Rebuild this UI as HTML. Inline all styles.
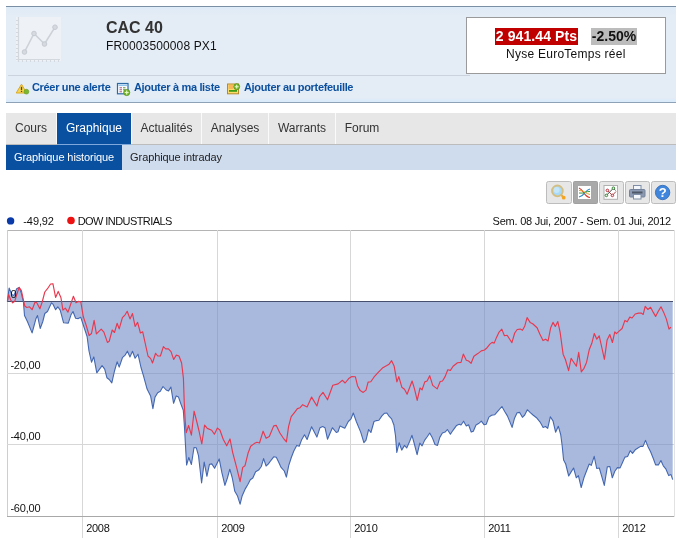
<!DOCTYPE html>
<html><head><meta charset="utf-8">
<style>
html,body{margin:0;padding:0;background:#fff;}
body{width:679px;height:538px;overflow:hidden;position:relative;font-family:"Liberation Sans",sans-serif;color:#222;}
.abs{position:absolute;}
#hdr{left:6px;top:6px;width:670px;height:97px;background:linear-gradient(to bottom,#deebf8 0px,#e4ecf5 9px,#e4ecf5 91px,#dcebfa 93px,#dcebfa 100%);border-top:1px solid #7b8fa4;border-bottom:1px solid #8da2b7;box-sizing:border-box;}
#sep{left:8px;top:75px;width:462px;height:1px;background:#cbd4de;}
#title{left:106px;top:19px;font-size:16px;font-weight:bold;color:#333;white-space:nowrap;}
#isin{left:106px;top:39px;font-size:12px;letter-spacing:0.12px;color:#111;white-space:nowrap;}
#pbox{left:466px;top:17px;width:200px;height:57px;background:#fff;border:1px solid #9a9a9a;box-sizing:border-box;}
.lnk{top:81px;font-size:11px;letter-spacing:-0.33px;font-weight:bold;color:#0b4f9f;white-space:nowrap;}
#tabs{left:6px;top:113px;width:670px;height:31px;background:#e7e7e7;}
.tab{top:113px;height:31px;line-height:30px;font-size:12px;color:#333;text-align:center;white-space:nowrap;box-sizing:border-box;border-right:1px solid #fafafa;}
.tab.on{background:#0a50a0;color:#fff;}
#sub{left:6px;top:145px;width:670px;height:25px;background:#cfdcee;}
.stab{top:145px;height:25px;line-height:25px;font-size:11px;letter-spacing:-0.1px;color:#222;white-space:nowrap;text-align:center;}
.stab.on{background:#0a50a0;color:#fff;}
#pr{left:495px;top:28px;width:83px;height:17px;line-height:17px;background:#c00000;color:#fff;font-weight:bold;font-size:14px;letter-spacing:0.1px;text-align:center;white-space:nowrap;}
#pc{left:591px;top:28px;width:46px;height:17px;line-height:17px;background:#bcbcbc;color:#111;font-weight:bold;font-size:14px;text-align:center;white-space:nowrap;}
#pn{left:506px;top:47px;font-size:12px;letter-spacing:0.26px;color:#111;white-space:nowrap;}
</style></head><body>
<div id="hdr" class="abs"></div>
<div id="sep" class="abs"></div>
<div id="title" class="abs">CAC 40</div>
<div id="isin" class="abs">FR0003500008 PX1</div>
<div id="pbox" class="abs"></div>
<div class="abs" id="pr">2 941.44 Pts</div>
<div class="abs" id="pc">-2.50%</div>
<div class="abs" id="pn">Nyse EuroTemps réel</div>
<div class="abs lnk" style="left:32px">Créer une alerte</div>
<div class="abs lnk" style="left:134px">Ajouter à ma liste</div>
<div class="abs lnk" style="left:244px">Ajouter au portefeuille</div>
<div id="tabs" class="abs"></div>
<div class="abs tab" style="left:6px;width:51px">Cours</div>
<div class="abs tab on" style="left:57px;width:75px">Graphique</div>
<div class="abs tab" style="left:132px;width:70px">Actualités</div>
<div class="abs tab" style="left:202px;width:67px">Analyses</div>
<div class="abs tab" style="left:269px;width:67px">Warrants</div>
<div class="abs tab" style="left:336px;width:52px;border-right:none">Forum</div>
<div class="abs" style="left:6px;top:144px;width:670px;height:1px;background:#bcbcbc"></div>
<div class="abs" style="left:57px;top:144px;width:74px;height:1px;background:#7fa9dc"></div>
<div id="sub" class="abs"></div>
<div class="abs stab on" style="left:6px;width:116px">Graphique historique</div>
<div class="abs stab" style="left:122px;width:108px">Graphique intraday</div>
<!--CHART--><svg class="abs" style="left:0;top:0" width="679" height="538" viewBox="0 0 679 538">
<g shape-rendering="crispEdges">
<rect x="7" y="230" width="667" height="1" fill="#b4b4b4"/>
<rect x="7" y="230" width="1" height="287" fill="#cecece"/>
<rect x="674" y="230" width="1" height="287" fill="#e2e2e2"/>
<rect x="7" y="373" width="667" height="1" fill="#d7d7d7"/>
<rect x="7" y="444" width="667" height="1" fill="#d7d7d7"/>
<rect x="82" y="230" width="1" height="308" fill="#d7d7d7"/>
<rect x="217" y="230" width="1" height="308" fill="#d7d7d7"/>
<rect x="350" y="230" width="1" height="308" fill="#d7d7d7"/>
<rect x="484" y="230" width="1" height="308" fill="#d7d7d7"/>
<rect x="618" y="230" width="1" height="308" fill="#d7d7d7"/>
<rect x="7" y="516" width="667" height="1" fill="#a8a8a8"/>
</g>
<path d="M7.4,301.4 L9.1,288.0 L12.0,294.7 L14.0,295.4 L16.7,288.7 L19.1,287.4 L21.4,293.4 L23.4,302.0 L24.5,315.5 L27.4,321.5 L32.1,332.9 L34.1,325.5 L35.9,318.8 L37.5,315.5 L40.2,328.5 L42.8,321.5 L44.8,313.5 L47.5,311.5 L51.5,302.8 L52.9,304.1 L55.6,309.7 L57.8,306.8 L60.2,310.1 L63.6,322.8 L68.3,323.1 L71.0,314.8 L73.0,311.5 L75.6,318.2 L78.3,318.6 L80.8,317.3 L83.3,325.0 L87.1,336.5 L89.0,351.0 L91.5,362.2 L93.8,356.9 L96.8,372.8 L102.1,365.7 L104.7,369.2 L106.9,377.7 L109.2,379.5 L111.8,382.8 L114.5,371.0 L117.1,361.8 L119.2,367.1 L122.4,357.7 L125.1,355.1 L127.4,351.2 L130.0,356.9 L132.5,351.2 L135.1,358.3 L138.0,354.2 L141.0,367.5 L143.5,375.9 L147.1,389.1 L150.6,395.9 L152.9,408.6 L155.0,397.1 L157.7,392.7 L160.3,391.3 L163.0,386.5 L166.2,390.0 L168.6,390.9 L170.9,387.0 L173.6,403.3 L176.2,395.9 L178.5,397.1 L181.0,404.2 L183.3,410.3 L184.6,429.0 L185.4,444.0 L186.6,465.0 L188.8,457.5 L191.4,464.5 L194.0,447.5 L196.3,447.8 L198.5,455.6 L201.6,483.0 L204.2,462.1 L206.9,476.3 L209.5,464.2 L211.8,463.9 L214.6,468.3 L219.2,458.9 L221.9,472.7 L224.9,485.4 L227.4,478.0 L229.8,469.2 L232.3,478.0 L234.8,491.3 L237.4,495.7 L240.1,504.2 L242.2,495.7 L245.4,488.6 L248.0,484.2 L250.3,479.8 L252.8,478.0 L255.6,471.8 L258.6,470.1 L261.3,466.5 L263.6,458.6 L266.1,466.0 L268.4,463.9 L271.0,460.3 L273.7,456.8 L276.3,457.2 L278.6,462.1 L281.1,467.4 L284.3,471.0 L286.4,477.1 L288.7,465.7 L291.3,457.5 L293.8,451.0 L296.7,445.4 L299.2,446.3 L301.5,440.1 L304.5,434.8 L307.1,439.5 L311.6,426.8 L316.9,437.1 L320.0,427.7 L322.7,426.5 L325.0,427.7 L327.5,439.2 L332.4,427.7 L336.3,432.5 L338.0,431.8 L340.0,425.9 L344.8,428.2 L348.3,421.5 L351.0,418.9 L353.3,413.0 L356.3,421.5 L360.7,432.1 L363.9,442.7 L366.0,440.1 L368.6,429.5 L370.9,432.5 L374.0,421.5 L376.6,420.6 L378.9,420.3 L381.9,415.9 L384.6,413.2 L386.9,413.0 L389.0,416.2 L391.6,418.9 L393.9,425.0 L395.5,435.7 L396.8,452.4 L399.2,442.7 L401.7,450.1 L404.5,445.4 L406.7,448.0 L409.7,441.3 L412.0,435.3 L414.5,444.5 L417.1,454.7 L419.8,443.1 L422.1,445.9 L424.7,440.1 L427.4,436.5 L429.7,433.0 L432.2,437.4 L435.0,444.5 L437.5,445.4 L439.8,437.4 L442.4,433.0 L445.1,432.1 L447.4,429.5 L450.4,434.2 L453.0,430.3 L456.6,425.4 L459.2,424.2 L461.0,425.0 L463.6,421.2 L466.3,425.9 L468.6,424.7 L471.2,432.1 L473.3,431.2 L476.0,425.0 L478.6,423.6 L481.3,421.2 L484.0,424.7 L486.2,424.2 L488.9,417.1 L491.6,415.3 L494.6,414.8 L498.3,410.6 L501.9,406.5 L504.7,411.5 L507.4,415.9 L510.0,422.1 L512.1,427.4 L514.4,418.6 L517.1,412.7 L519.7,412.4 L522.4,417.3 L524.7,415.0 L527.3,409.7 L530.3,412.7 L533.0,415.0 L536.5,417.7 L540.1,422.1 L543.1,427.4 L545.4,426.5 L547.7,428.3 L550.3,416.8 L553.0,420.9 L555.6,432.2 L558.3,426.2 L560.7,434.5 L562.2,446.0 L563.6,460.1 L565.7,464.0 L568.7,476.0 L571.0,472.1 L573.6,468.0 L576.3,477.8 L578.4,475.6 L581.2,487.5 L583.9,477.8 L586.6,470.7 L589.2,464.0 L591.3,465.4 L594.2,456.3 L596.7,468.5 L599.3,468.0 L601.8,476.6 L604.3,485.4 L607.3,466.8 L609.9,466.5 L612.3,477.8 L614.8,471.2 L617.4,467.6 L620.1,467.9 L622.5,462.5 L624.9,457.1 L627.6,456.5 L630.2,450.7 L632.5,453.4 L635.2,449.8 L637.9,448.0 L640.6,446.4 L643.0,446.4 L645.5,440.4 L647.9,446.4 L650.6,451.8 L653.3,458.5 L655.6,464.9 L658.4,464.9 L660.9,460.5 L663.3,465.8 L666.0,469.2 L668.7,475.6 L671.0,474.6 L672.7,479.6 L672.7,301.5 L7.4,301.5 Z" fill="#6f8bc8" fill-opacity="0.6" stroke="none"/>
<g shape-rendering="crispEdges">
<rect x="7" y="301" width="666" height="1" fill="#46506e"/>
</g>
<path d="M7.4,301.4 L9.1,288.0 L12.0,294.7 L14.0,295.4 L16.7,288.7 L19.1,287.4 L21.4,293.4 L23.4,302.0 L24.5,315.5 L27.4,321.5 L32.1,332.9 L34.1,325.5 L35.9,318.8 L37.5,315.5 L40.2,328.5 L42.8,321.5 L44.8,313.5 L47.5,311.5 L51.5,302.8 L52.9,304.1 L55.6,309.7 L57.8,306.8 L60.2,310.1 L63.6,322.8 L68.3,323.1 L71.0,314.8 L73.0,311.5 L75.6,318.2 L78.3,318.6 L80.8,317.3 L83.3,325.0 L87.1,336.5 L89.0,351.0 L91.5,362.2 L93.8,356.9 L96.8,372.8 L102.1,365.7 L104.7,369.2 L106.9,377.7 L109.2,379.5 L111.8,382.8 L114.5,371.0 L117.1,361.8 L119.2,367.1 L122.4,357.7 L125.1,355.1 L127.4,351.2 L130.0,356.9 L132.5,351.2 L135.1,358.3 L138.0,354.2 L141.0,367.5 L143.5,375.9 L147.1,389.1 L150.6,395.9 L152.9,408.6 L155.0,397.1 L157.7,392.7 L160.3,391.3 L163.0,386.5 L166.2,390.0 L168.6,390.9 L170.9,387.0 L173.6,403.3 L176.2,395.9 L178.5,397.1 L181.0,404.2 L183.3,410.3 L184.6,429.0 L185.4,444.0 L186.6,465.0 L188.8,457.5 L191.4,464.5 L194.0,447.5 L196.3,447.8 L198.5,455.6 L201.6,483.0 L204.2,462.1 L206.9,476.3 L209.5,464.2 L211.8,463.9 L214.6,468.3 L219.2,458.9 L221.9,472.7 L224.9,485.4 L227.4,478.0 L229.8,469.2 L232.3,478.0 L234.8,491.3 L237.4,495.7 L240.1,504.2 L242.2,495.7 L245.4,488.6 L248.0,484.2 L250.3,479.8 L252.8,478.0 L255.6,471.8 L258.6,470.1 L261.3,466.5 L263.6,458.6 L266.1,466.0 L268.4,463.9 L271.0,460.3 L273.7,456.8 L276.3,457.2 L278.6,462.1 L281.1,467.4 L284.3,471.0 L286.4,477.1 L288.7,465.7 L291.3,457.5 L293.8,451.0 L296.7,445.4 L299.2,446.3 L301.5,440.1 L304.5,434.8 L307.1,439.5 L311.6,426.8 L316.9,437.1 L320.0,427.7 L322.7,426.5 L325.0,427.7 L327.5,439.2 L332.4,427.7 L336.3,432.5 L338.0,431.8 L340.0,425.9 L344.8,428.2 L348.3,421.5 L351.0,418.9 L353.3,413.0 L356.3,421.5 L360.7,432.1 L363.9,442.7 L366.0,440.1 L368.6,429.5 L370.9,432.5 L374.0,421.5 L376.6,420.6 L378.9,420.3 L381.9,415.9 L384.6,413.2 L386.9,413.0 L389.0,416.2 L391.6,418.9 L393.9,425.0 L395.5,435.7 L396.8,452.4 L399.2,442.7 L401.7,450.1 L404.5,445.4 L406.7,448.0 L409.7,441.3 L412.0,435.3 L414.5,444.5 L417.1,454.7 L419.8,443.1 L422.1,445.9 L424.7,440.1 L427.4,436.5 L429.7,433.0 L432.2,437.4 L435.0,444.5 L437.5,445.4 L439.8,437.4 L442.4,433.0 L445.1,432.1 L447.4,429.5 L450.4,434.2 L453.0,430.3 L456.6,425.4 L459.2,424.2 L461.0,425.0 L463.6,421.2 L466.3,425.9 L468.6,424.7 L471.2,432.1 L473.3,431.2 L476.0,425.0 L478.6,423.6 L481.3,421.2 L484.0,424.7 L486.2,424.2 L488.9,417.1 L491.6,415.3 L494.6,414.8 L498.3,410.6 L501.9,406.5 L504.7,411.5 L507.4,415.9 L510.0,422.1 L512.1,427.4 L514.4,418.6 L517.1,412.7 L519.7,412.4 L522.4,417.3 L524.7,415.0 L527.3,409.7 L530.3,412.7 L533.0,415.0 L536.5,417.7 L540.1,422.1 L543.1,427.4 L545.4,426.5 L547.7,428.3 L550.3,416.8 L553.0,420.9 L555.6,432.2 L558.3,426.2 L560.7,434.5 L562.2,446.0 L563.6,460.1 L565.7,464.0 L568.7,476.0 L571.0,472.1 L573.6,468.0 L576.3,477.8 L578.4,475.6 L581.2,487.5 L583.9,477.8 L586.6,470.7 L589.2,464.0 L591.3,465.4 L594.2,456.3 L596.7,468.5 L599.3,468.0 L601.8,476.6 L604.3,485.4 L607.3,466.8 L609.9,466.5 L612.3,477.8 L614.8,471.2 L617.4,467.6 L620.1,467.9 L622.5,462.5 L624.9,457.1 L627.6,456.5 L630.2,450.7 L632.5,453.4 L635.2,449.8 L637.9,448.0 L640.6,446.4 L643.0,446.4 L645.5,440.4 L647.9,446.4 L650.6,451.8 L653.3,458.5 L655.6,464.9 L658.4,464.9 L660.9,460.5 L663.3,465.8 L666.0,469.2 L668.7,475.6 L671.0,474.6 L672.7,479.6" fill="none" stroke="#4468b0" stroke-width="1.1" stroke-linejoin="round"/>
<path d="M7.4,301.4 L8.7,294.7 L10.7,300.0 L12.7,302.8 L14.7,301.4 L16.7,294.7 L19.1,287.4 L21.4,290.7 L23.4,300.0 L24.8,306.0 L26.8,307.5 L29.5,306.8 L32.1,309.7 L35.1,302.0 L36.8,302.8 L39.9,308.8 L42.2,302.0 L44.8,292.0 L47.5,288.7 L50.6,284.0 L52.9,283.7 L55.6,297.4 L58.2,291.4 L60.9,297.4 L62.9,310.1 L65.3,308.1 L68.0,312.1 L73.4,296.3 L76.0,302.8 L78.3,301.4 L80.8,301.8 L83.3,316.8 L86.4,326.0 L89.1,335.5 L91.5,333.5 L94.1,320.3 L96.4,333.9 L101.2,329.1 L103.9,332.1 L107.4,342.4 L109.2,341.3 L112.2,330.0 L114.5,332.5 L117.1,323.3 L119.2,328.9 L122.4,317.6 L125.1,314.8 L127.2,311.3 L130.0,318.9 L132.5,313.6 L135.1,326.5 L137.6,322.4 L140.4,333.0 L142.7,331.8 L148.0,356.0 L150.7,358.6 L152.5,363.0 L155.6,353.3 L157.8,356.0 L160.4,356.0 L163.4,346.6 L165.7,348.9 L168.4,348.9 L171.0,351.6 L173.7,359.5 L176.3,355.1 L179.0,356.0 L181.6,363.0 L183.4,378.1 L184.2,401.5 L185.2,421.0 L186.3,432.6 L188.6,425.5 L191.4,435.2 L194.1,411.2 L196.6,421.0 L198.9,430.5 L201.8,444.0 L204.6,425.0 L207.3,428.4 L211.7,430.2 L214.4,434.2 L217.4,428.1 L219.9,430.0 L223.2,439.3 L226.7,445.8 L230.0,438.9 L232.7,452.6 L236.6,467.4 L240.1,481.6 L242.7,467.4 L245.0,465.7 L248.0,453.3 L250.7,446.2 L254.2,443.6 L256.9,442.3 L259.5,443.0 L263.1,431.2 L266.1,438.3 L269.3,436.5 L273.7,425.9 L276.3,425.4 L279.9,433.0 L283.4,438.3 L286.4,441.8 L288.6,426.3 L291.2,416.6 L294.8,412.2 L297.4,408.6 L300.1,407.7 L302.7,404.7 L307.1,406.9 L311.6,397.1 L316.9,406.0 L319.5,396.6 L323.0,392.4 L327.5,399.8 L332.8,385.3 L338.1,383.9 L342.5,380.3 L345.1,383.0 L348.7,378.6 L351.9,376.5 L355.4,376.8 L357.5,385.7 L360.2,390.6 L363.2,392.4 L366.0,390.1 L368.1,382.1 L370.8,381.8 L373.9,377.2 L378.0,372.7 L382.4,368.1 L386.8,365.6 L389.1,364.2 L391.6,360.7 L394.2,366.3 L396.9,381.9 L398.8,376.6 L401.8,387.2 L404.5,389.3 L407.1,394.2 L412.1,381.0 L414.5,388.9 L417.2,400.4 L420.0,388.0 L422.1,389.8 L424.8,381.9 L427.1,381.0 L429.7,375.7 L432.7,385.4 L437.2,388.9 L440.2,381.5 L442.5,381.0 L445.1,376.6 L447.8,369.8 L450.4,370.4 L453.1,366.3 L457.5,362.8 L461.0,362.4 L463.3,354.1 L466.3,360.3 L468.6,361.0 L471.1,363.3 L473.9,356.2 L477.8,353.6 L481.3,350.9 L484.5,350.0 L487.1,347.7 L489.9,344.1 L492.1,342.4 L494.2,343.1 L496.5,337.4 L499.1,332.1 L501.8,329.1 L504.4,335.7 L507.1,335.3 L509.7,339.2 L511.9,342.7 L514.7,333.0 L517.2,329.5 L520.3,329.1 L522.5,330.3 L524.8,325.9 L527.1,317.6 L530.1,322.4 L532.7,323.8 L537.1,327.7 L539.8,333.9 L543.0,340.6 L545.6,339.2 L548.1,341.0 L550.7,327.7 L553.0,322.4 L555.3,326.5 L557.8,321.5 L560.1,332.1 L563.1,354.2 L565.4,359.5 L568.6,370.6 L571.1,358.3 L573.7,362.2 L576.4,366.2 L578.7,352.4 L581.3,371.9 L584.0,368.3 L586.6,362.2 L589.2,349.8 L591.8,343.3 L594.3,333.5 L596.8,339.2 L599.2,335.8 L601.8,347.5 L604.4,359.3 L607.1,339.9 L609.8,334.5 L612.4,342.5 L614.8,331.8 L616.5,333.6 L619.1,331.2 L622.1,328.5 L624.9,320.4 L627.2,321.8 L629.8,317.1 L632.1,318.0 L635.2,314.0 L638.6,313.1 L641.2,313.1 L643.2,314.4 L645.2,306.4 L647.9,309.5 L650.6,307.3 L653.3,312.4 L655.6,316.4 L658.4,311.1 L661.0,306.8 L663.7,312.4 L666.4,319.1 L669.0,329.2 L671.0,327.1" fill="none" stroke="#e8384e" stroke-width="1.15" stroke-linejoin="round"/>
<g font-family="Liberation Sans, sans-serif" font-size="11" fill="#111">
<text x="10.4" y="298.3" letter-spacing="-0.2">0</text>
<text x="10.4" y="368.8" letter-spacing="-0.2">-20,00</text>
<text x="10.4" y="440.3" letter-spacing="-0.2">-40,00</text>
<text x="10.4" y="511.8" letter-spacing="-0.2">-60,00</text>
<text x="86.2" y="531.6" letter-spacing="-0.3">2008</text>
<text x="221.2" y="531.6" letter-spacing="-0.3">2009</text>
<text x="354.2" y="531.6" letter-spacing="-0.3">2010</text>
<text x="488.2" y="531.6" letter-spacing="-0.3">2011</text>
<text x="622.2" y="531.6" letter-spacing="-0.3">2012</text>
<text x="23.3" y="225" letter-spacing="-0.1">-49,92</text>
<text x="77.7" y="225" letter-spacing="-0.57">DOW INDUSTRIALS</text>
<text x="671" y="224.7" text-anchor="end" letter-spacing="-0.235">Sem. 08 Jui, 2007 - Sem. 01 Jui, 2012</text>
</g>
<circle cx="10.6" cy="220.9" r="3.7" fill="#0a3aa8"/>
<circle cx="71" cy="220.5" r="3.8" fill="#ee1111"/>
</svg><!--/CHART-->
<!--ICONS--><svg class="abs" style="left:0;top:0" width="679" height="210" viewBox="0 0 679 210">
<!-- big placeholder icon -->
<rect x="16" y="17" width="45" height="44" fill="#eef1f6"/>
<g stroke="#d3d7de" fill="none">
<path d="M18.5,17 V62 M16,59.5 H60" stroke-width="1.2"/>
<path d="M16,20.5h2M16,24.5h2M16,28.5h2M16,32.5h2M16,36.5h2M16,40.5h2M16,44.5h2M16,48.5h2M16,52.5h2M16,56.5h2" stroke-width="1"/>
<path d="M22.5,60v2M26.5,60v2M30.5,60v2M34.5,60v2M38.5,60v2M42.5,60v2M46.5,60v2M50.5,60v2M54.5,60v2M58.5,60v2" stroke-width="1"/>
<path d="M24.5,52 L34,33.5 L44.5,44 L55,27.2" stroke-width="1.6" stroke="#cdd1d8"/>
</g>
<g fill="#d6d9df" stroke="#c6cad2" stroke-width="1">
<circle cx="24.5" cy="52" r="2.3"/><circle cx="34" cy="33.5" r="2.3"/><circle cx="44.5" cy="44" r="2.3"/><circle cx="55" cy="27.2" r="2.3"/>
</g>
<!-- alert icon -->
<path d="M21.5,84.2 L26.6,93 H16.2 Z" fill="#f7d653" stroke="#d9a928" stroke-width="1" stroke-linejoin="round"/>
<path d="M21.5,86.8 V90" stroke="#5a4200" stroke-width="1.3"/>
<rect x="20.9" y="90.8" width="1.3" height="1.2" fill="#5a4200"/>
<circle cx="26.4" cy="91.7" r="2.4" fill="#7cb82f" stroke="#5e9a1e" stroke-width="0.6"/>
<!-- list icon -->
<rect x="117.5" y="83.5" width="10.5" height="10.3" fill="#fff" stroke="#2d6aa5" stroke-width="1.2"/>
<rect x="118.5" y="84.5" width="8.5" height="1.6" fill="#8fc4ee"/>
<path d="M119.5,87.8h2.5M119.5,89.8h2.5M119.5,91.8h2.5" stroke="#a0527a" stroke-width="1"/>
<path d="M123,87.8h2.5M123,89.8h2.5" stroke="#5a8a3a" stroke-width="1"/>
<circle cx="126.7" cy="92.5" r="3.1" fill="#78b82a" stroke="#4f8f14" stroke-width="0.7"/>
<path d="M126.7,90.6v3.8M124.8,92.5h3.8" stroke="#e8f8c8" stroke-width="1.1"/>
<!-- portfolio icon -->
<rect x="227.5" y="84" width="11" height="9.8" fill="#fbdc6a" stroke="#b8892a" stroke-width="1"/>
<rect x="228.5" y="85" width="4.5" height="4" fill="#f7b65a"/>
<rect x="229" y="90" width="8" height="1.8" fill="#3f9a14"/>
<circle cx="236.7" cy="86.7" r="3" fill="#78b82a" stroke="#4f8f14" stroke-width="0.7"/>
<path d="M236.7,84.8v3.8M234.8,86.7h3.8" stroke="#e8f8c8" stroke-width="1.1"/>
<!-- toolbar -->
<g stroke="#bdbdbd" stroke-width="1">
<rect x="546.5" y="181.5" width="25" height="22" rx="2" fill="#e7e7e7"/>
<rect x="573.5" y="181.5" width="24" height="22" rx="1" fill="#a9a9a9" stroke="#a0a0a0"/>
<rect x="599.5" y="181.5" width="24" height="22" rx="2" fill="#e7e7e7"/>
<rect x="625.5" y="181.5" width="24" height="22" rx="2" fill="#e7e7e7"/>
<rect x="651.5" y="181.5" width="24" height="22" rx="2" fill="#e7e7e7"/>
</g>
<!-- magnifier -->
<path d="M561.5,195.2 L563.6,197.6" stroke="#e8a838" stroke-width="2" stroke-linecap="round"/>
<circle cx="563.7" cy="197.7" r="1.9" fill="#f3a522"/>
<circle cx="557.4" cy="190.9" r="5.4" fill="#a9d9f8" stroke="#d4bf80" stroke-width="1.8"/>
<circle cx="556.6" cy="190" r="3" fill="#c4e6fb"/>
<!-- compare icon (pressed) -->
<rect x="578" y="186" width="13" height="13" fill="#fff"/>
<path d="M579,188 C584,190 584,197 590,197.5" stroke="#d83a2a" stroke-width="1.1" fill="none"/>
<path d="M579,197 C585,196 585,190 590,189" stroke="#2a88c8" stroke-width="1.2" fill="none"/>
<path d="M579,193 C584,194 586,191 590,191.5" stroke="#3a9a3a" stroke-width="1" fill="none"/>
<path d="M579,190.5 C584,190 586,194 590,194.5" stroke="#e8a020" stroke-width="1" fill="none"/>
<!-- points icon -->
<rect x="604" y="185.5" width="13.5" height="13.8" fill="#fff" stroke="#b0b0b0" stroke-width="1"/>
<path d="M606.4,195.4 L613.4,188.2 L615.5,190.5" stroke="#333" stroke-width="0.9" fill="none"/>
<path d="M607.4,190.4 L612.4,195.4 L616,191.5" stroke="#a03030" stroke-width="0.9" fill="none"/>
<circle cx="607.4" cy="190.4" r="1.3" fill="#fbe0e0" stroke="#b02a3a" stroke-width="0.9"/>
<circle cx="612.4" cy="195.4" r="1.3" fill="#fbe0e0" stroke="#b02a3a" stroke-width="0.9"/>
<circle cx="613.4" cy="188.2" r="1.3" fill="#e0f4e0" stroke="#2a7a2a" stroke-width="0.9"/>
<circle cx="606.4" cy="195.4" r="1.3" fill="#e0f4e0" stroke="#2a7a2a" stroke-width="0.9"/>
<!-- printer -->
<rect x="633.5" y="185.5" width="7.5" height="5" fill="#f4f8fc" stroke="#7f8ea6" stroke-width="1"/>
<rect x="629.5" y="189.5" width="15.5" height="7.5" rx="1" fill="#8b9ab2" stroke="#74839b" stroke-width="1"/>
<rect x="632" y="191.5" width="10.5" height="2" fill="#4e5868"/>
<rect x="633.5" y="194.5" width="7.5" height="4.5" fill="#f4f8fc" stroke="#7f8ea6" stroke-width="1"/>
<!-- help -->
<circle cx="662.6" cy="192.5" r="7.2" fill="#3f86dc" stroke="#2b66b4" stroke-width="0.8"/>
<text x="662.7" y="197.3" text-anchor="middle" font-family="Liberation Sans, sans-serif" font-size="13" font-weight="bold" fill="#fff">?</text>
</svg><!--/ICONS-->
</body></html>
